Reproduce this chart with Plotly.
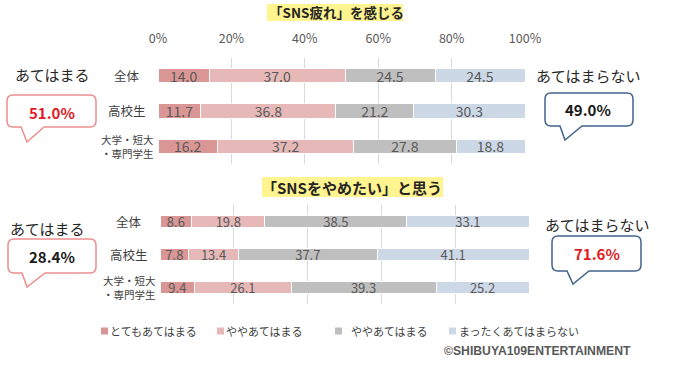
import plotly.graph_objects as go

# ---------------- data ----------------
categories = ["全体", "高校生", "大学・短大<br>・専門学生"]
legend_names = ["とてもあてはまる", "ややあてはまる", "ややあてはまる", "まったくあてはまらない"]
colors = ["#D99694", "#E6B9B8", "#BFBFBF", "#CDD8E7"]

tired_very = [14.0, 11.7, 16.2]
tired_some = [37.0, 36.8, 37.2]
tired_gray = [24.5, 21.2, 27.8]
tired_not = [24.5, 30.3, 18.8]

quit_very = [8.6, 7.8, 9.4]
quit_some = [19.8, 13.4, 26.1]
quit_gray = [38.5, 37.7, 39.3]
quit_not = [33.1, 41.1, 25.2]

x_ticks = [0, 20, 40, 60, 80, 100]
x_tick_labels = ["0%", "20%", "40%", "60%", "80%", "100%"]

title_top = "「SNS疲れ」を感じる"
title_bottom = "「SNSをやめたい」と思う"
lbl_yes = "あてはまる"
lbl_no = "あてはまらない"
copyright_text = "©SHIBUYA109ENTERTAINMENT"

W, H = 700, 366
FONT = "Noto Sans CJK JP"


def X(px):
    return px / W


def Y(py):
    return 1 - py / H


fig = go.Figure()

top_series = [tired_very, tired_some, tired_gray, tired_not]
bot_series = [quit_very, quit_some, quit_gray, quit_not]

for vals, name, col in zip(top_series, legend_names, colors):
    fig.add_trace(go.Bar(
        y=categories, x=vals, orientation="h", name=name,
        marker=dict(color=col, line=dict(color="white", width=1)),
        width=0.41, text=[f"{v:.1f}" for v in vals],
        textposition="inside", insidetextanchor="middle", constraintext="none",
        textangle=0,
        textfont=dict(family=FONT, size=14, color="#595959"),
        xaxis="x", yaxis="y", showlegend=False, hoverinfo="skip"))

for vals, name, col in zip(bot_series, legend_names, colors):
    fig.add_trace(go.Bar(
        y=categories, x=vals, orientation="h", name=name,
        marker=dict(color=col, line=dict(color="white", width=1)),
        width=0.36, text=[f"{v:.1f}" for v in vals],
        textposition="inside", insidetextanchor="middle", constraintext="none",
        textangle=0,
        textfont=dict(family=FONT, size=13, color="#595959"),
        xaxis="x2", yaxis="y2", showlegend=False, hoverinfo="skip"))

fig.update_layout(
    width=W, height=H, margin=dict(l=0, r=0, t=0, b=0, pad=0),
    autosize=False,
    paper_bgcolor="white", plot_bgcolor="white",
    barmode="stack", bargap=0.5, showlegend=False,
    font=dict(family=FONT, color="#404040"),
    xaxis=dict(domain=[X(158), X(525)], range=[0, 100], side="top",
               tickvals=x_ticks, ticktext=x_tick_labels, showgrid=True,
               gridcolor="#D9D9D9", gridwidth=1, zeroline=False, showline=False,
               ticks="", ticklabelstandoff=12, automargin=False,
               tickfont=dict(family=FONT, size=12.5, color="#595959"),
               anchor="y", fixedrange=True),
    yaxis=dict(domain=[Y(164), Y(58)], autorange="reversed", showticklabels=False,
               showgrid=False, zeroline=False, anchor="x", type="category",
               automargin=False),
    xaxis2=dict(domain=[X(160), X(529)], range=[0, 100], tickvals=x_ticks,
                showticklabels=False, showgrid=True, gridcolor="#D9D9D9",
                gridwidth=1, zeroline=False, showline=False, ticks="", anchor="y2",
                automargin=False),
    yaxis2=dict(domain=[Y(304), Y(205)], autorange="reversed", showticklabels=False,
                showgrid=False, zeroline=False, anchor="x2", type="category",
                automargin=False),
)

annotations = []
shapes = []


def note(px, py, text, size, color="#262626", family=FONT, xanchor="center", **kw):
    return dict(x=X(px), y=Y(py), xref="paper", yref="paper", text=text,
                showarrow=False, xanchor=xanchor, yanchor="middle",
                font=dict(family=family, size=size, color=color), **kw)


# category labels (positioned on the category axes)
for cat in categories:
    small = "<br>" in cat
    for yref, cx in (("y", 127), ("y2", 129)):
        annotations.append(dict(
            x=X(cx), xref="paper", y=cat, yref=yref, text=cat, showarrow=False,
            xanchor="center", yanchor="middle", align="center",
            font=dict(family=FONT, size=10.5 if small else 12.5, color="#404040")))

# titles with yellow highlight
shapes.append(dict(type="rect", xref="paper", yref="paper",
                   x0=X(267), x1=X(403), y0=Y(21), y1=Y(4),
                   fillcolor="#FFF48F", line=dict(width=0), layer="below"))
annotations.append(note(336, 12.5, f"<b>{title_top}</b>", 13.5))
shapes.append(dict(type="rect", xref="paper", yref="paper",
                   x0=X(262), x1=X(443), y0=Y(197), y1=Y(177),
                   fillcolor="#FFF48F", line=dict(width=0), layer="below"))
annotations.append(note(352, 187, f"<b>{title_bottom}</b>", 15))


def callout_path(x0, y0, x1, y1, xa, xb, tx, ty, r=6):
    def p(x, y):
        return f"{X(x):.5f},{Y(y):.5f}"
    return (f"M {p(x0 + r, y0)} L {p(x1 - r, y0)} Q {p(x1, y0)} {p(x1, y0 + r)} "
            f"L {p(x1, y1 - r)} Q {p(x1, y1)} {p(x1 - r, y1)} L {p(xb, y1)} "
            f"L {p(tx, ty)} L {p(xa, y1)} L {p(x0 + r, y1)} Q {p(x0, y1)} {p(x0, y1 - r)} "
            f"L {p(x0, y0 + r)} Q {p(x0, y0)} {p(x0 + r, y0)} Z")


pink_border = "#EC8E8F"
blue_border = "#43638C"
red_text = "#E3191F"

tot_top_yes = tired_very[0] + tired_some[0]
tot_top_no = tired_gray[0] + tired_not[0]
tot_bot_yes = quit_very[0] + quit_some[0]
tot_bot_no = quit_gray[0] + quit_not[0]

callouts = [
    ((7, 95, 96, 127), (21, 44, 27, 142), (52, 74), (52, 112), tot_top_yes, pink_border, red_text, lbl_yes),
    ((545, 93, 633, 126), (560, 582, 565, 140), (588, 75), (588, 109), tot_top_no, blue_border, "#1A1A1A", lbl_no),
    ((8, 239, 96, 273), (22, 45, 27, 287), (47, 228), (52, 256), tot_bot_yes, pink_border, "#1A1A1A", lbl_yes),
    ((552, 236, 641, 271), (567, 589, 573, 284), (597, 224), (597, 253), tot_bot_no, blue_border, red_text, lbl_no),
]
for (x0, y0, x1, y1), (xa, xb, tx, ty), (lx, ly), (vx, vy), val, bc, vc, lbl in callouts:
    shapes.append(dict(type="path", xref="paper", yref="paper",
                       path=callout_path(x0, y0, x1, y1, xa, xb, tx, ty),
                       fillcolor="white", line=dict(color=bc, width=1.5)))
    annotations.append(note(lx, ly, lbl, 15))
    annotations.append(note(vx, vy, f"<b>{val:.1f}%</b>", 15, color=vc))

# legend (manual, to match spacing)
legend_sq = [101, 217, 335, 449]
legend_tx = [108, 224, 349, 457]
for name, col, sx, tx in zip(legend_names, colors, legend_sq, legend_tx):
    shapes.append(dict(type="rect", xref="paper", yref="paper",
                       x0=X(sx), x1=X(sx + 7), y0=Y(334.5), y1=Y(327.5),
                       fillcolor=col, line=dict(width=0)))
    annotations.append(note(tx, 331, name, 11, color="#404040", xanchor="left"))

annotations.append(note(633, 350.5, f"<b>{copyright_text}</b>", 12.2, color="#595959",
                        family="Liberation Sans", xanchor="right"))

fig.update_layout(annotations=annotations, shapes=shapes)
fig.write_html("out.html")
